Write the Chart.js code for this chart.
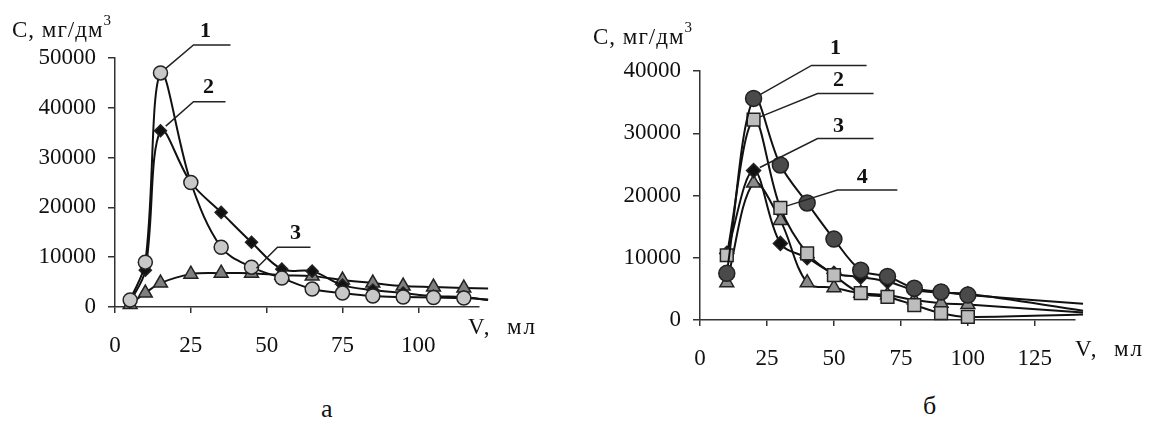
<!DOCTYPE html>
<html>
<head>
<meta charset="utf-8">
<script src="https://cdn.jsdelivr.net/npm/chart.js@4.4.1/dist/chart.umd.min.js"></script>
<style>
  body { margin: 0; background: #fff; width: 1154px; height: 427px; position: relative; overflow: hidden; font-family: "Liberation Serif", serif; color: #111; }
  canvas { position: absolute; top: 0; }
  .t { position: absolute; font-size: 23px; line-height: 1; white-space: nowrap; letter-spacing: 1px; }
  .t sup { font-size: 15px; vertical-align: top; position: relative; top: -5px; }
  .v { letter-spacing: 2px; }
  .p { position: absolute; font-size: 26px; line-height: 1; }
</style>
</head>
<body>
<canvas id="chartA" width="560" height="370" style="left:0"></canvas>
<canvas id="chartB" width="594" height="370" style="left:560px"></canvas>

<div class="t" style="left:12px;top:18px">C, мг/дм<sup>3</sup></div>
<div class="t v" style="left:468px;top:315px">V,&nbsp; мл</div>
<div class="t" style="left:593px;top:25px">C, мг/дм<sup>3</sup></div>
<div class="t v" style="left:1075px;top:337px">V,&nbsp; мл</div>
<div class="p" style="left:321px;top:396px">а</div>
<div class="p" style="left:923px;top:393px">б</div>

<script>
// panel а : volume, ml (last value = end of the curve tail)
const volA = [5, 10, 15, 25, 35, 45, 55, 65, 75, 85, 95, 105, 115, 123];
const concA1 = [1400, 9000, 47000, 25000, 12000, 8000, 5800, 3600, 2800, 2200, 2000, 1900, 1800, 1500];
const concA2 = [1000, 7400, 35400, 25000, 19000, 13000, 7600, 7200, 4400, 3400, 2800, 2200, 2000, 1400];
const concA3 = [500, 2800, 4800, 6600, 6800, 6800, 6400, 6200, 5400, 4800, 4200, 4000, 3800, 3700];
const xTicksA = [0, 25, 50, 75, 100];
const yTicksA = [0, 10000, 20000, 30000, 40000, 50000];

// panel б
const volB = [10, 20, 30, 40, 50, 60, 70, 80, 90, 100, 143];
const concB1 = [7500, 35600, 24900, 18800, 13000, 8000, 7000, 5100, 4500, 4000, 2600];
const concB2 = [10400, 32200, 18000, 10700, 7200, 4300, 3700, 2400, 1100, 500, 900];
const concB3 = [10700, 24000, 12300, 10000, 7500, 6900, 6200, 4800, 4400, 4200, 1500];
const concB4 = [6000, 22000, 16000, 6000, 5200, 4300, 4000, 3200, 2700, 2500, 1200];
const xTicksB = [0, 25, 50, 75, 100, 125];
const yTicksB = [0, 10000, 20000, 30000, 40000];

const font = { family: 'Liberation Serif', size: 23 };

function series(xs, ys, style, fill, r) {
  return {
    data: xs.map((x, i) => ({ x: x, y: ys[i] })),
    borderColor: '#111',
    borderWidth: 2,
    tension: 0.35,
    clip: false,
    pointStyle: style,
    pointBackgroundColor: fill,
    pointBorderColor: '#222',
    pointBorderWidth: 1.5,
    pointRadius: c => c.dataIndex === xs.length - 1 ? 0 : r
  };
}

function axes(xMax, yMax, xTicks, yTicks, yWidth, xHeight) {
  return {
    x: {
      type: 'linear', min: 0, max: xMax,
      afterBuildTicks: s => { s.ticks = xTicks.map(v => ({ value: v })); },
      afterFit: s => { s.height = xHeight; },
      grid: { drawOnChartArea: false, tickLength: 6, color: '#333', lineWidth: 1.5 },
      border: { color: '#333', width: 1.5 },
      ticks: { font: font, color: '#111', padding: 19, maxRotation: 0, callback: v => String(v) }
    },
    y: {
      min: 0, max: yMax,
      afterBuildTicks: s => { s.ticks = yTicks.map(v => ({ value: v })); },
      afterFit: s => { s.width = yWidth; },
      grid: { drawOnChartArea: false, tickLength: 7, color: '#333', lineWidth: 1.5 },
      border: { color: '#333', width: 1.5 },
      ticks: { font: font, color: '#111', padding: 12, callback: v => String(v) }
    }
  };
}

// numbered leader lines
const callouts = {
  id: 'callouts',
  afterDatasetsDraw(chart, args, opts) {
    const ctx = chart.ctx;
    ctx.save();
    ctx.strokeStyle = '#222';
    ctx.lineWidth = 1.5;
    ctx.fillStyle = '#111';
    ctx.font = 'bold 22px "Liberation Serif"';
    ctx.textAlign = 'center';
    ctx.textBaseline = 'middle';
    for (const c of opts.items) {
      const pt = chart.getDatasetMeta(c.ds).data[c.idx];
      const ex = pt.x + c.dx, ey = pt.y + c.dy;
      const d = Math.hypot(c.dx, c.dy);
      ctx.beginPath();
      ctx.moveTo(pt.x + c.dx / d * 7, pt.y + c.dy / d * 7);
      ctx.lineTo(ex, ey);
      ctx.lineTo(ex + c.len, ey);
      ctx.stroke();
      ctx.fillText(c.label, ex + c.lx, ey + c.ly);
    }
    ctx.restore();
  }
};

new Chart(document.getElementById('chartA'), {
  type: 'line',
  data: {
    datasets: [
      series(volA, concA1, 'circle', '#c8c8c8', 7),
      series(volA, concA2, 'rectRot', '#111', 6),
      series(volA, concA3, 'triangle', '#7f7f7f', 8)
    ]
  },
  options: {
    responsive: false,
    animation: false,
    events: [],
    layout: { padding: { left: 0, top: 58, right: 81, bottom: 0 } },
    scales: axes(120, 50000, xTicksA, yTicksA, 115, 63),
    plugins: {
      legend: { display: false },
      tooltip: { enabled: false },
      callouts: { items: [
        { ds: 0, idx: 2, dx: 33, dy: -28, len: 37, label: '1', lx: 12, ly: -14 },
        { ds: 1, idx: 2, dx: 33, dy: -29, len: 32, label: '2', lx: 15, ly: -14 },
        { ds: 2, idx: 5, dx: 26, dy: -26, len: 33, label: '3', lx: 18, ly: -14 }
      ] }
    }
  },
  plugins: [callouts]
});

new Chart(document.getElementById('chartB'), {
  type: 'line',
  data: {
    datasets: [
      series(volB, concB1, 'circle', '#4a4a4a', 8),
      series(volB, concB2, 'rect', '#bdbdbd', 9),
      series(volB, concB3, 'rectRot', '#111', 7),
      series(volB, concB4, 'triangle', '#8a8a8a', 8)
    ]
  },
  options: {
    responsive: false,
    animation: false,
    events: [],
    layout: { padding: { left: 0, top: 71, right: 79, bottom: 0 } },
    scales: axes(140, 40000, xTicksB, yTicksB, 140, 50),
    plugins: {
      legend: { display: false },
      tooltip: { enabled: false },
      callouts: { items: [
        { ds: 0, idx: 1, dx: 58, dy: -33, len: 55, label: '1', lx: 24, ly: -17 },
        { ds: 1, idx: 1, dx: 64, dy: -26, len: 56, label: '2', lx: 21, ly: -13 },
        { ds: 2, idx: 1, dx: 64, dy: -32, len: 56, label: '3', lx: 21, ly: -12 },
        { ds: 1, idx: 2, dx: 57, dy: -18, len: 60, label: '4', lx: 25, ly: -13 }
      ] }
    }
  },
  plugins: [callouts]
});
</script>
</body>
</html>
